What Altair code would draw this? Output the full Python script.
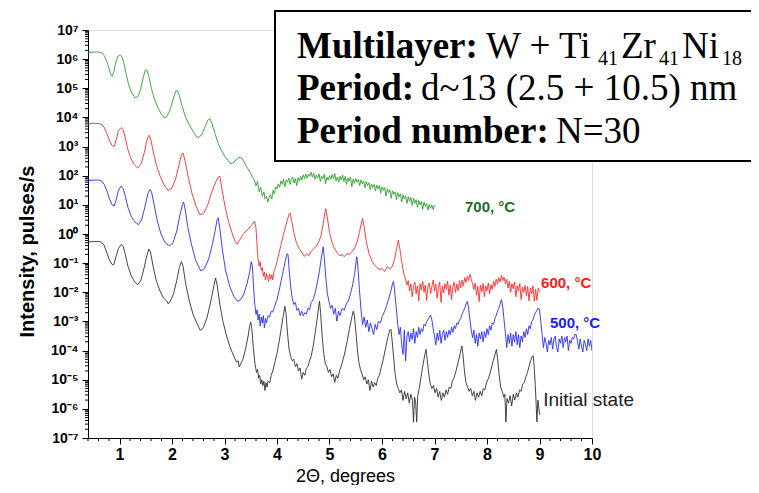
import altair as alt
import pandas as pd

# ---- data: (2theta in degrees, log10 intensity) ----
GREEN = [(0.40, 6.22), (0.50, 6.24), (0.58, 6.25), (0.66, 6.22), (0.71, 6.12), (0.76, 5.90), (0.80, 5.68),
         (0.84, 5.45), (0.86, 5.41), (0.89, 5.55), (0.93, 5.90), (0.97, 6.10), (1.01, 6.15), (1.04, 6.10),
         (1.08, 5.90), (1.12, 5.55), (1.17, 5.15), (1.23, 4.85), (1.30, 4.67), (1.35, 4.72), (1.40, 4.95),
         (1.45, 5.35), (1.49, 5.62), (1.52, 5.62), (1.56, 5.40), (1.61, 4.98), (1.67, 4.60), (1.74, 4.30),
         (1.80, 4.10), (1.85, 3.99), (1.90, 4.02), (1.96, 4.25), (2.02, 4.62), (2.07, 4.90), (2.10, 4.92),
         (2.14, 4.75), (2.19, 4.40), (2.25, 4.05), (2.32, 3.78), (2.40, 3.52), (2.47, 3.33), (2.52, 3.32),
         (2.58, 3.45), (2.63, 3.68), (2.68, 3.90), (2.72, 3.96), (2.76, 3.80), (2.82, 3.45), (2.88, 3.10),
         (2.95, 2.85), (3.01, 2.65), (3.07, 2.52), (3.12, 2.40), (3.16, 2.45), (3.20, 2.50), (3.25, 2.60),
         (3.30, 2.63), (3.34, 2.58), (3.39, 2.42), (3.44, 2.25), (3.49, 2.12), (3.53, 1.95), (3.57, 1.85),
         (3.60, 1.65), (3.63, 1.80), (3.66, 1.45), (3.69, 1.60), (3.72, 1.30), (3.75, 1.45), (3.77, 1.21),
         (3.800, 1.30), (3.825, 1.10), (3.850, 1.25), (3.875, 1.35), (3.900, 1.20), (3.925, 1.50), (3.950, 1.38),
         (3.975, 1.62), (4.000, 1.55), (4.025, 1.72), (4.050, 1.60), (4.075, 1.82), (4.100, 1.70), (4.125, 1.88),
         (4.150, 1.62), (4.175, 1.85), (4.200, 1.78), (4.225, 1.92), (4.250, 1.70), (4.275, 1.88), (4.300, 1.95),
         (4.325, 1.75), (4.350, 1.90), (4.375, 1.66), (4.400, 1.93), (4.425, 1.82), (4.450, 1.98), (4.475, 1.85),
         (4.500, 2.03), (4.525, 1.90), (4.550, 2.06), (4.575, 1.92), (4.600, 2.05), (4.625, 1.98), (4.650, 2.12),
         (4.675, 1.95), (4.700, 2.08), (4.725, 1.88), (4.750, 2.02), (4.775, 1.93), (4.800, 2.06), (4.825, 1.80),
         (4.850, 1.98), (4.875, 1.90), (4.900, 2.05), (4.925, 1.72), (4.950, 1.95), (4.975, 1.85), (5.000, 2.00),
         (5.025, 1.88), (5.050, 2.04), (5.075, 1.90), (5.100, 2.08), (5.125, 1.82), (5.150, 1.96), (5.175, 1.78),
         (5.200, 1.98), (5.225, 1.86), (5.250, 2.02), (5.275, 1.80), (5.300, 1.98), (5.325, 1.70), (5.350, 1.92),
         (5.375, 1.82), (5.400, 1.96), (5.425, 1.62), (5.450, 1.88), (5.475, 1.74), (5.500, 1.90), (5.525, 1.78),
         (5.550, 1.88), (5.575, 1.66), (5.600, 1.86), (5.625, 1.72), (5.650, 1.82), (5.675, 1.58), (5.700, 1.80),
         (5.725, 1.66), (5.750, 1.76), (5.775, 1.52), (5.800, 1.72), (5.825, 1.60), (5.850, 1.70), (5.875, 1.48),
         (5.900, 1.68), (5.925, 1.55), (5.950, 1.66), (5.975, 1.40), (6.000, 1.62), (6.025, 1.50), (6.050, 1.60),
         (6.075, 1.30), (6.100, 1.55), (6.125, 1.42), (6.150, 1.52), (6.175, 1.22), (6.200, 1.48), (6.225, 1.36),
         (6.250, 1.45), (6.275, 1.18), (6.300, 1.42), (6.325, 1.28), (6.350, 1.38), (6.375, 1.10), (6.400, 1.35),
         (6.425, 1.20), (6.450, 1.30), (6.475, 1.05), (6.500, 1.28), (6.525, 1.12), (6.550, 1.25), (6.575, 0.98),
         (6.600, 1.22), (6.625, 1.05), (6.650, 1.18), (6.675, 0.92), (6.700, 1.15), (6.725, 1.00), (6.750, 1.12),
         (6.775, 0.85), (6.800, 1.10), (6.825, 0.95), (6.850, 1.05), (6.875, 0.82), (6.900, 1.02), (6.925, 0.88),
         (6.950, 1.00), (6.975, 0.84), (7.000, 0.98)]

RED = [(0.40, 3.78), (0.50, 3.80), (0.60, 3.79), (0.66, 3.76), (0.71, 3.65), (0.76, 3.45), (0.81, 3.20),
       (0.86, 3.03), (0.90, 3.00), (0.94, 3.25), (0.98, 3.55), (1.03, 3.65), (1.07, 3.58), (1.11, 3.30),
       (1.16, 2.90), (1.22, 2.58), (1.28, 2.38), (1.35, 2.26), (1.41, 2.40), (1.47, 2.78), (1.52, 3.20),
       (1.56, 3.39), (1.59, 3.30), (1.64, 2.85), (1.70, 2.38), (1.77, 2.00), (1.85, 1.68), (1.93, 1.49),
       (2.00, 1.58), (2.07, 1.90), (2.13, 2.35), (2.18, 2.72), (2.21, 2.78), (2.25, 2.50), (2.31, 1.95),
       (2.38, 1.40), (2.46, 0.95), (2.53, 0.66), (2.60, 0.70), (2.68, 1.00), (2.76, 1.45), (2.83, 1.78),
       (2.88, 1.95), (2.91, 1.98), (2.95, 1.55), (3.01, 0.95), (3.08, 0.40), (3.15, 0.00), (3.20, -0.25),
       (3.24, -0.35), (3.29, -0.20), (3.35, -0.02), (3.41, 0.10), (3.46, 0.18), (3.50, 0.28), (3.54, 0.35),
       (3.57, 0.44), (3.60, 0.20), (3.62, -0.40), (3.64, -0.85), (3.66, -1.10), (3.68, -0.95), (3.70, -1.25),
       (3.72, -1.15), (3.74, -1.45), (3.76, -1.30), (3.78, -1.58), (3.80, -1.35), (3.82, -1.50), (3.84, -1.62),
       (3.86, -1.38), (3.88, -1.55), (3.90, -1.40), (3.92, -1.57), (3.94, -1.30), (3.97, -1.15), (4.00, -0.95),
       (4.04, -0.65), (4.08, -0.35), (4.12, -0.05), (4.16, 0.25), (4.20, 0.50), (4.23, 0.68), (4.25, 0.72),
       (4.28, 0.45), (4.32, 0.05), (4.37, -0.30), (4.42, -0.50), (4.47, -0.62), (4.52, -0.77), (4.56, -0.68),
       (4.60, -0.75), (4.65, -0.60), (4.70, -0.50), (4.75, -0.42), (4.80, -0.25), (4.84, -0.05), (4.88, 0.35),
       (4.91, 0.70), (4.93, 0.87), (4.96, 0.55), (5.00, 0.05), (5.05, -0.30), (5.10, -0.52), (5.15, -0.65),
       (5.20, -0.75), (5.24, -0.70), (5.28, -0.78), (5.33, -0.68), (5.38, -0.70), (5.43, -0.60), (5.48, -0.48),
       (5.53, -0.25), (5.57, 0.05), (5.61, 0.40), (5.63, 0.53), (5.66, 0.25), (5.70, -0.25), (5.75, -0.65),
       (5.80, -0.90), (5.85, -1.05), (5.90, -1.15), (5.95, -1.22), (6.00, -1.18), (6.05, -1.29), (6.10, -1.12),
       (6.15, -1.20), (6.20, -1.10), (6.24, -0.85), (6.28, -0.50), (6.31, -0.21), (6.34, -0.50), (6.38, -1.00),
       (6.42, -1.40), (6.46, -1.63),
       (6.475, -1.75), (6.500, -1.60), (6.525, -1.95), (6.550, -1.72), (6.575, -2.15), (6.600, -1.80),
       (6.625, -1.65), (6.650, -2.05), (6.675, -1.78), (6.700, -2.30), (6.725, -1.70), (6.750, -1.92),
       (6.775, -1.62), (6.800, -2.00), (6.825, -1.75), (6.850, -2.28), (6.875, -1.82), (6.900, -1.68),
       (6.925, -2.05), (6.950, -1.80), (6.975, -1.58), (7.000, -1.95), (7.025, -1.72), (7.050, -2.20),
       (7.075, -1.85), (7.100, -1.65), (7.125, -2.35), (7.150, -1.78), (7.175, -2.02), (7.200, -1.70),
       (7.225, -1.90), (7.250, -1.62), (7.275, -2.10), (7.300, -1.75), (7.325, -2.25), (7.350, -1.80),
       (7.375, -1.66), (7.400, -2.00), (7.425, -1.72), (7.450, -1.95), (7.475, -1.60), (7.500, -1.85),
       (7.525, -1.58), (7.550, -1.78), (7.575, -1.50), (7.600, -1.66), (7.625, -1.45), (7.650, -1.60),
       (7.675, -1.38), (7.700, -1.55), (7.725, -1.72), (7.750, -1.90), (7.775, -1.68), (7.800, -2.10),
       (7.825, -1.80), (7.850, -2.32), (7.875, -1.75), (7.900, -1.98), (7.925, -1.70), (7.950, -2.15),
       (7.975, -1.78), (8.000, -1.95), (8.025, -1.68), (8.050, -2.05), (8.075, -1.74), (8.100, -1.90),
       (8.125, -1.62), (8.150, -1.80), (8.175, -1.55), (8.200, -1.72), (8.225, -1.50), (8.250, -1.65),
       (8.275, -1.42), (8.300, -1.60), (8.325, -1.48), (8.350, -1.70), (8.375, -1.55), (8.400, -1.85),
       (8.425, -1.62), (8.450, -2.00), (8.475, -1.70), (8.500, -1.88), (8.525, -1.65), (8.550, -2.15),
       (8.575, -1.78), (8.600, -1.95), (8.625, -1.70), (8.650, -2.25), (8.675, -1.82), (8.700, -2.00),
       (8.725, -1.76), (8.750, -2.12), (8.775, -1.80), (8.800, -2.30), (8.825, -1.85), (8.850, -2.05),
       (8.875, -1.78), (8.900, -2.30), (8.925, -1.90), (8.950, -2.28), (8.975, -1.86), (9.000, -2.00)]

BLUE = [(0.40, 1.83), (0.50, 1.85), (0.60, 1.85), (0.66, 1.82), (0.71, 1.70), (0.76, 1.48), (0.81, 1.20),
        (0.86, 1.00), (0.90, 0.96), (0.94, 1.20), (0.98, 1.50), (1.03, 1.64), (1.07, 1.56), (1.11, 1.30),
        (1.16, 0.92), (1.22, 0.62), (1.29, 0.42), (1.36, 0.32), (1.42, 0.48), (1.48, 0.90), (1.54, 1.38),
        (1.58, 1.53), (1.61, 1.45), (1.66, 1.00), (1.72, 0.45), (1.79, 0.00), (1.87, -0.30), (1.95, -0.41),
        (2.02, -0.30), (2.09, 0.10), (2.15, 0.65), (2.20, 1.02), (2.22, 1.10), (2.25, 0.85), (2.30, 0.25),
        (2.37, -0.35), (2.45, -0.90), (2.55, -1.27), (2.62, -1.18), (2.70, -0.85), (2.77, -0.35), (2.82, 0.10),
        (2.86, 0.50), (2.88, 0.56), (2.91, 0.20), (2.96, -0.55), (3.02, -1.25), (3.10, -1.80), (3.18, -2.15),
        (3.25, -2.31), (3.31, -2.25), (3.37, -2.05), (3.43, -1.70), (3.48, -1.30), (3.51, -0.95), (3.53, -1.10),
        (3.55, -1.70), (3.57, -2.30), (3.60, -2.76), (3.62, -2.60), (3.64, -2.95), (3.66, -2.75), (3.68, -3.15),
        (3.70, -2.85), (3.72, -3.05), (3.74, -2.80), (3.76, -3.22), (3.78, -2.90), (3.80, -3.05), (3.83, -2.80),
        (3.86, -2.85), (3.89, -2.65), (3.92, -2.68), (3.96, -2.45), (4.00, -2.25), (4.04, -1.95), (4.08, -1.60),
        (4.12, -1.25), (4.16, -0.90), (4.19, -0.68), (4.21, -0.70), (4.23, -1.20), (4.26, -1.80), (4.29, -2.20),
        (4.32, -2.42), (4.35, -2.35), (4.38, -2.62), (4.41, -2.55), (4.44, -2.80), (4.47, -2.65), (4.50, -2.81),
        (4.53, -2.70), (4.56, -2.75), (4.59, -2.55), (4.62, -2.60), (4.65, -2.35), (4.69, -2.25), (4.73, -2.00),
        (4.77, -1.65), (4.81, -1.25), (4.85, -0.75), (4.88, -0.44), (4.90, -0.80), (4.93, -1.50), (4.96, -2.05),
        (4.99, -2.31), (5.02, -2.55), (5.05, -2.45), (5.08, -2.75), (5.11, -2.55), (5.14, -2.99), (5.17, -2.65),
        (5.20, -2.80), (5.24, -2.55), (5.28, -2.62), (5.32, -2.40), (5.36, -2.30), (5.40, -2.05), (5.44, -1.75),
        (5.48, -1.35), (5.51, -0.90), (5.52, -0.78), (5.54, -1.10), (5.57, -1.90), (5.60, -2.60), (5.63, -3.11),
        (5.66, -2.85), (5.69, -3.20), (5.72, -2.95), (5.75, -3.35), (5.78, -3.05), (5.81, -3.25), (5.84, -3.45),
        (5.87, -3.10), (5.90, -3.28), (5.93, -3.00), (5.97, -3.05), (6.01, -2.80), (6.05, -2.65), (6.09, -2.45),
        (6.13, -2.20), (6.17, -1.95), (6.20, -1.70), (6.22, -1.63), (6.24, -1.95), (6.27, -2.50), (6.30, -3.11),
        (6.325, -3.45), (6.350, -3.20), (6.375, -3.80), (6.400, -4.13), (6.425, -3.30), (6.450, -4.35),
        (6.475, -3.50), (6.500, -3.35), (6.525, -3.70), (6.550, -3.40), (6.575, -3.62), (6.600, -3.25),
        (6.625, -3.75), (6.650, -3.35), (6.675, -3.55), (6.700, -3.20), (6.725, -3.45), (6.750, -3.25),
        (6.775, -3.35), (6.800, -3.10), (6.825, -3.15), (6.850, -3.00), (6.875, -2.95), (6.900, -2.85),
        (6.925, -2.78), (6.950, -2.95), (6.975, -3.25), (7.000, -3.50), (7.025, -3.80), (7.050, -3.40),
        (7.075, -3.65), (7.100, -3.30), (7.125, -3.75), (7.150, -3.45), (7.175, -3.30), (7.200, -3.65),
        (7.225, -3.35), (7.250, -3.55), (7.275, -3.30), (7.300, -3.45), (7.325, -3.20), (7.350, -3.38),
        (7.375, -3.15), (7.400, -3.25), (7.425, -3.05), (7.450, -3.10), (7.475, -2.95), (7.500, -2.90),
        (7.525, -2.75), (7.550, -2.65), (7.575, -2.55), (7.600, -2.40), (7.625, -2.31), (7.650, -2.55),
        (7.675, -2.95), (7.700, -3.30), (7.725, -3.56), (7.750, -3.30), (7.775, -3.75), (7.800, -3.45),
        (7.825, -3.85), (7.850, -3.40), (7.875, -3.60), (7.900, -3.35), (7.925, -3.70), (7.950, -3.35),
        (7.975, -3.55), (8.000, -3.25), (8.025, -3.45), (8.050, -3.15), (8.075, -3.30), (8.100, -3.05),
        (8.125, -3.10), (8.150, -2.90), (8.175, -2.80), (8.200, -2.65), (8.225, -2.55), (8.250, -2.40),
        (8.275, -2.25), (8.300, -2.50), (8.325, -2.95), (8.350, -3.40), (8.375, -3.90), (8.400, -3.45),
        (8.425, -3.75), (8.450, -3.40), (8.475, -3.85), (8.500, -3.45), (8.525, -3.70), (8.550, -3.35),
        (8.575, -3.80), (8.600, -3.45), (8.625, -3.90), (8.650, -3.50), (8.675, -3.70), (8.700, -3.35),
        (8.725, -3.55), (8.750, -3.25), (8.775, -3.45), (8.800, -3.15), (8.825, -3.25), (8.850, -3.00),
        (8.875, -2.95), (8.900, -2.80), (8.925, -2.70), (8.950, -2.62), (8.975, -2.54), (9.000, -2.60),
        (9.025, -3.00), (9.050, -3.45), (9.075, -3.90), (9.100, -3.55), (9.125, -3.75), (9.150, -4.05),
        (9.175, -3.65), (9.200, -3.80), (9.225, -3.55), (9.250, -3.95), (9.275, -3.60), (9.300, -3.50),
        (9.325, -3.90), (9.350, -4.05), (9.375, -3.60), (9.400, -3.75), (9.425, -3.50), (9.450, -3.90),
        (9.475, -3.55), (9.500, -3.70), (9.525, -3.50), (9.550, -4.00), (9.575, -3.65), (9.600, -3.75),
        (9.625, -3.55), (9.650, -3.60), (9.675, -3.45), (9.700, -3.45), (9.725, -3.70), (9.750, -3.95),
        (9.775, -3.60), (9.800, -3.85), (9.825, -4.05), (9.850, -3.65), (9.875, -3.80), (9.900, -4.00),
        (9.925, -3.60), (9.950, -3.85), (9.975, -3.65), (10.000, -4.01)]

BLACK = [(0.40, -0.27), (0.50, -0.26), (0.60, -0.26), (0.66, -0.28), (0.71, -0.40), (0.76, -0.65), (0.81, -0.90),
         (0.86, -1.05), (0.89, -1.06), (0.93, -0.80), (0.98, -0.50), (1.03, -0.36), (1.07, -0.42), (1.11, -0.70),
         (1.16, -1.10), (1.22, -1.42), (1.29, -1.65), (1.35, -1.74), (1.41, -1.58), (1.47, -1.15), (1.52, -0.75),
         (1.56, -0.52), (1.59, -0.62), (1.64, -1.10), (1.70, -1.60), (1.77, -1.95), (1.84, -2.20), (1.90, -2.30),
         (1.93, -2.40), (1.97, -2.30), (2.03, -2.05), (2.09, -1.60), (2.14, -1.15), (2.18, -0.95), (2.21, -1.10),
         (2.26, -1.70), (2.33, -2.30), (2.40, -2.75), (2.47, -3.05), (2.54, -3.31), (2.60, -3.20), (2.67, -2.85),
         (2.74, -2.30), (2.79, -1.85), (2.83, -1.51), (2.86, -1.75), (2.91, -2.40), (2.97, -3.00), (3.04, -3.50),
         (3.11, -3.90), (3.18, -4.20), (3.23, -4.40), (3.26, -4.35), (3.28, -4.56), (3.31, -4.45), (3.35, -4.30),
         (3.40, -3.95), (3.45, -3.50), (3.48, -3.15), (3.50, -3.02), (3.52, -3.25), (3.55, -3.90), (3.58, -4.45),
         (3.61, -4.75), (3.63, -4.65), (3.65, -4.95), (3.67, -4.85), (3.69, -5.15), (3.71, -5.00), (3.73, -5.20),
         (3.75, -5.05), (3.77, -5.37), (3.79, -5.10), (3.81, -5.25), (3.83, -5.05), (3.86, -5.10), (3.89, -4.85),
         (3.92, -4.70), (3.96, -4.40), (4.00, -4.10), (4.04, -3.70), (4.08, -3.25), (4.12, -2.80), (4.15, -2.48),
         (4.17, -2.70), (4.20, -3.40), (4.23, -3.95), (4.26, -4.20), (4.29, -4.35), (4.32, -4.30), (4.35, -4.55),
         (4.38, -4.45), (4.41, -4.70), (4.44, -4.60), (4.47, -4.98), (4.50, -4.75), (4.53, -4.85), (4.56, -4.60),
         (4.59, -4.55), (4.62, -4.35), (4.65, -4.20), (4.69, -3.85), (4.73, -3.35), (4.77, -2.85), (4.80, -2.40),
         (4.81, -2.31), (4.83, -2.70), (4.86, -3.50), (4.89, -4.10), (4.92, -4.45), (4.95, -4.55), (4.98, -4.75),
         (5.01, -4.65), (5.04, -4.90), (5.07, -4.80), (5.10, -5.09), (5.13, -4.85), (5.16, -4.95), (5.19, -4.70),
         (5.22, -4.55), (5.26, -4.30), (5.30, -4.01), (5.34, -3.65), (5.38, -3.25), (5.42, -2.90), (5.45, -2.65),
         (5.47, -2.75), (5.50, -3.30), (5.53, -3.95), (5.56, -4.40), (5.59, -4.65), (5.62, -4.80), (5.65, -5.00),
         (5.68, -4.90), (5.71, -5.15), (5.74, -5.00), (5.77, -5.37), (5.80, -5.05), (5.83, -5.25), (5.86, -5.10),
         (5.89, -5.20), (5.92, -4.95), (5.95, -4.85), (5.99, -4.55), (6.03, -4.25), (6.07, -3.90), (6.11, -3.55),
         (6.15, -3.30), (6.17, -3.27), (6.19, -3.60), (6.22, -4.20), (6.25, -4.80), (6.28, -5.15), (6.31, -5.30),
         (6.34, -5.45), (6.37, -5.35), (6.40, -5.71), (6.43, -5.40), (6.46, -5.65), (6.49, -5.45), (6.52, -5.80),
         (6.55, -5.50), (6.58, -5.70), (6.60, -6.45), (6.62, -5.60), (6.64, -5.75), (6.66, -6.45), (6.68, -5.55),
         (6.71, -5.30), (6.74, -4.95), (6.77, -4.60), (6.80, -4.30), (6.82, -4.10), (6.84, -3.96), (6.86, -4.30),
         (6.89, -4.80), (6.92, -5.15), (6.95, -5.30), (6.98, -5.20), (7.01, -5.45), (7.04, -5.30), (7.07, -5.60),
         (7.10, -5.40), (7.13, -5.71), (7.16, -5.45), (7.19, -5.60), (7.22, -5.35), (7.25, -5.50), (7.28, -5.25),
         (7.31, -5.30), (7.34, -5.05), (7.37, -4.95), (7.41, -4.70), (7.45, -4.40), (7.49, -4.10), (7.52, -3.84),
         (7.54, -4.10), (7.57, -4.70), (7.60, -5.10), (7.63, -5.25), (7.66, -5.40), (7.69, -5.30), (7.72, -5.55),
         (7.75, -5.40), (7.78, -5.71), (7.81, -5.45), (7.84, -5.60), (7.87, -5.40), (7.90, -5.55), (7.93, -5.30),
         (7.96, -5.35), (7.99, -5.10), (8.03, -4.95), (8.07, -4.70), (8.11, -4.40), (8.15, -4.15), (8.18, -3.96),
         (8.20, -4.25), (8.23, -4.80), (8.26, -5.25), (8.29, -5.40), (8.32, -5.60), (8.34, -5.50), (8.36, -6.45),
         (8.38, -5.65), (8.41, -5.80), (8.44, -5.55), (8.47, -5.90), (8.50, -5.50), (8.53, -5.70), (8.56, -5.45),
         (8.59, -5.60), (8.62, -5.35), (8.65, -5.40), (8.68, -5.15), (8.71, -5.10), (8.74, -4.90), (8.77, -4.75),
         (8.80, -4.55), (8.83, -4.35), (8.86, -4.20), (8.88, -4.18), (8.90, -4.60), (8.92, -5.20), (8.94, -6.00),
         (8.95, -6.45), (8.97, -5.70), (8.99, -6.00), (9.00, -6.20)]

SERIES = ["700, °C", "600, °C", "500, °C", "Initial state"]
LINE_COLORS = ["#2e9e2e", "#ff2a2a", "#2a2aff", "#303030"]

LABEL_TEXT = ["700, °C", "600, °C", "500, °C"]
LABEL_X = [7.58, 9.03, 9.20]
LABEL_E = [0.94, -1.69, -3.05]
LABEL_COLOR = ["#1f6b1f", "#ff1a1a", "#1a1aff"]
INIT_TEXT = ["Initial state"]
INIT_X = [9.07]
INIT_E = [-5.69]

Y_LABELS = ["10⁻⁷", "10⁻⁶", "10⁻⁵", "10⁻⁴", "10⁻³", "10⁻²", "10⁻¹", "10⁰",
            "10¹", "10²", "10³", "10⁴", "10⁵", "10⁶", "10⁷"]

# ---- tables (x and I are the shared field names in every layer) ----
rows = []
for name, pts in zip(SERIES, [GREEN, RED, BLUE, BLACK]):
    for i, (x, e) in enumerate(pts):
        rows.append({"series": name, "x": x, "I": 10 ** e, "i": i})
df = pd.DataFrame(rows)

lab = pd.DataFrame({"t": LABEL_TEXT, "x": LABEL_X, "I": [10 ** e for e in LABEL_E], "c": LABEL_COLOR})
init = pd.DataFrame({"t": INIT_TEXT, "x": INIT_X, "I": [10 ** e for e in INIT_E]})
ONE = pd.DataFrame({"k": [0]})

SANS = "Liberation Sans"
SERIF = "Liberation Serif"

PLOT_W, PLOT_H = 504, 408

# axis tick positions (major labelled, minor unlabelled)
x_major = list(range(1, 11))
x_minor = pd.DataFrame({"x": [round(0.4 + 0.2 * k, 1) for k in range(49)
                              if abs((0.4 + 0.2 * k) - round(0.4 + 0.2 * k)) > 0.01]})
y_major = [10.0 ** k for k in range(-7, 8)]
y_minor = pd.DataFrame({"I": [m * 10.0 ** k for k in range(-7, 7) for m in range(2, 10)]})

ylab_arr = "[" + ",".join("'%s'" % s for s in Y_LABELS) + "]"

xscale = alt.Scale(domain=[0.4, 10], nice=False, zero=False)
yscale = alt.Scale(type="log", domain=[1e-7, 1e7], nice=False)

x_axis = alt.Axis(
    values=x_major, grid=False, title="2Θ, degrees", format="d",
    labelFont=SANS, labelFontSize=16, labelFontWeight="bold", labelColor="black",
    labelPadding=2, labelFlush=False, labelOverlap=False,
    tickColor="black", tickSize=6,
    domainColor="black", domainWidth=1,
    titleFont=SANS, titleFontSize=18, titleFontWeight="normal", titleColor="black",
    titleX=257, titleY=43, titleAlign="center", titleBaseline="alphabetic",
)
y_axis = alt.Axis(
    values=y_major, grid=False, title="Intensity, pulses/s",
    labelExpr=f"{ylab_arr}[round(log(datum.value)/LN10)+7]",
    labelFont=SANS, labelFontSize=14, labelFontWeight="bold", labelColor="black",
    labelPadding=4, labelFlush=False, labelOverlap=False,
    tickColor="black", tickSize=6,
    domainColor="black", domainWidth=1,
    titleFont=SANS, titleFontSize=20, titleFontWeight="bold", titleColor="black",
    titleX=-61, titleY=221, titleAngle=-90, titleAlign="center", titleBaseline="middle",
)

X = alt.X("x:Q", scale=xscale, axis=x_axis)
Y = alt.Y("I:Q", scale=yscale, axis=y_axis)

lines = alt.Chart(df).mark_line(strokeWidth=0.9, clip=True).encode(
    x=X, y=Y,
    color=alt.Color("series:N", scale=alt.Scale(domain=SERIES, range=LINE_COLORS), legend=None),
    detail="series:N",
    order="i:Q",
)

x_minor_ticks = alt.Chart(x_minor).mark_rule(color="black", strokeWidth=1).encode(
    x=X, y=alt.value(PLOT_H), y2=alt.value(PLOT_H + 3),
)
y_minor_ticks = alt.Chart(y_minor).mark_rule(color="black", strokeWidth=1).encode(
    y=Y, x=alt.value(-3), x2=alt.value(0),
)

labels = alt.Chart(lab).mark_text(align="left", baseline="middle", font=SANS, fontSize=15,
                                  fontWeight="bold").encode(
    x=X, y=Y, text="t:N", color=alt.Color("c:N", scale=None),
)
init_label = alt.Chart(init).mark_text(align="left", baseline="middle", font=SANS, fontSize=19,
                                       color="#222222").encode(
    x=X, y=Y, text="t:N",
)

# ---- annotation box (page pixel layout -> plot-group coords) ----
OX, OY = 88, 30
box = alt.Chart(ONE).mark_rect(fill="white", stroke="black", strokeWidth=2).encode(
    x=alt.value(275 - OX), x2=alt.value(800 - OX), y=alt.value(11 - OY), y2=alt.value(161 - OY)
)


def txt(s, px, py, size=37, weight="normal"):
    return alt.Chart(ONE).mark_text(text=s, align="left", baseline="alphabetic", font=SERIF,
                                    fontSize=size, fontWeight=weight, color="black").encode(
        x=alt.value(px - OX), y=alt.value(py - OY)
    )


BASE1, BASE2, BASE3 = 58, 100, 143
SUB = 20
box_texts = [
    txt("Multilayer:", 297, BASE1, weight="bold"),
    txt("W + Ti", 486, BASE1),
    txt("41", 598, BASE1 + 7, size=SUB),
    txt("Zr", 621, BASE1),
    txt("41", 659, BASE1 + 7, size=SUB),
    txt("Ni", 682, BASE1),
    txt("18", 722, BASE1 + 7, size=SUB),
    txt("Period:", 297, BASE2, weight="bold"),
    txt("d~13 (2.5 + 10.5) nm", 421, BASE2),
    txt("Period number:", 297, BASE3, weight="bold"),
    txt("N=30", 556, BASE3),
]

chart = alt.layer(lines, x_minor_ticks, y_minor_ticks, labels, init_label, box, *box_texts).properties(
    width=PLOT_W, height=PLOT_H,
    autosize=alt.AutoSizeParams(type="none"),
    padding={"left": 80, "top": 22, "right": 159, "bottom": 477 - 22 - PLOT_H},
).configure_view(stroke="#d9d9d9", strokeWidth=1).configure(background="white")

chart.save("out.html", embed_options={"renderer": "svg", "actions": False})
